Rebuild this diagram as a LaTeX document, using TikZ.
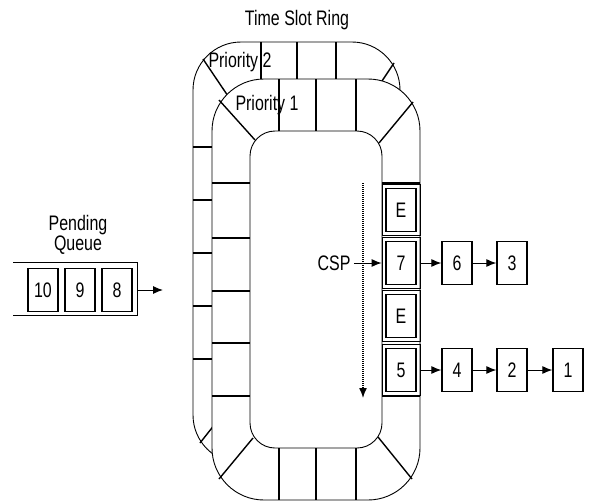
\documentclass[tikz,border=0pt]{standalone}
\usepackage{fontspec}
\setmainfont{Liberation Sans}[FakeStretch=0.76]
\usetikzlibrary{positioning, arrows.meta, calc}

\begin{document}
\begin{tikzpicture}[x=1pt, y=-1pt, every node/.style={font=\fontsize{21}{18}\selectfont},
  ring/.style={line width=0.9pt, fill=white},
  cell/.style={line width=1.4pt},
  slot/.style={draw, line width=0.8pt, minimum width=38pt, minimum height=51pt, inner sep=0pt},
  box/.style={draw, line width=1.3pt, minimum width=30pt, minimum height=43pt, inner sep=0pt},
  link/.style={-{Latex[length=10pt, width=8pt]}, line width=1pt}]
\useasboundingbox (0,0) rectangle (589,501);
% Title
\node (title) at (297,20) {Time Slot Ring};
% Priority 2 ring (behind)
\draw[ring, rounded corners=48pt] (193,42) rectangle (400,463);
\foreach \x in {261,297,336} {
  \draw[cell] (\x,42) -- (\x,90);
}
\foreach \y in {147,200,253,306,359} {
  \draw[cell] (193,\y) -- (220,\y);
}
\draw[cell] (203,59) -- (230,99);
\draw[cell] (394,63) -- (380,84);
\draw[cell] (200,443) -- (215,424);
% Priority 1 ring (front)
\draw[ring, rounded corners=52pt] (212,79) rectangle (420,500);
\draw[line width=0.9pt, rounded corners=25pt] (250,131) rectangle (382,448);
\foreach \x in {279,316,356} {
  \draw[cell] (\x,79) -- (\x,131);
  \draw[cell] (\x,448) -- (\x,500);
}
\foreach \y in {183,238,291,343,396} {
  \draw[cell] (212,\y) -- (250,\y);
}
\draw[cell] (382,183) -- (420,183);
\draw[cell] (382,396) -- (420,396);
% Corner cells
\draw[cell] (219,100) -- (255,140);
\draw[cell] (413,102) -- (379,143);
\draw[cell] (253,438) -- (219,479);
\draw[cell] (378,437) -- (412,479);
% Ring labels
\node (p2) at (240,62) {Priority 2};
\node (p1) at (267,105) {Priority 1};
% Slots of the ring
\foreach \name/\y/\txt in {s1/210/E, s2/263/7, s3/316/E, s4/370/5} {
  \node[slot] (\name) at (401,\y) {};
  \node[box] (b\name) at (\name) {\txt};
}
% Chained requests
\node[box] (n6) at (457,263) {6};
\node[box] (n3) at (512,263) {3};
\node[box] (n4) at (457,370) {4};
\node[box] (n2) at (512,370) {2};
\node[box] (n1) at (568,370) {1};
\draw[link] (s2) -- (n6);
\draw[link] (n6) -- (n3);
\draw[link] (s4) -- (n4);
\draw[link] (n4) -- (n2);
\draw[link] (n2) -- (n1);
% Current slot pointer
\node (csp) at (334,263) {CSP};
\draw[link] (csp) -- (s2);
\coordinate (scantop) at (363,183);
\coordinate (scanbot) at (363,398);
\draw[link, densely dotted, line width=1.4pt] (scantop) -- (scanbot);
% Pending queue
\node[align=center] (pq) at (78,235) {Pending\\Queue};
\draw[line width=1pt] (13,262) -- (137,262) -- (137,315) -- (13,315);
\node[box] (q10) at (43,290) {10};
\node[box] (q9) at (80,290) {9};
\node[box] (q8) at (117,290) {8};
\coordinate (qout) at (137,290);
\coordinate (qin) at (163,290);
\draw[link] (qout) -- (qin);
\end{tikzpicture}
\end{document}
